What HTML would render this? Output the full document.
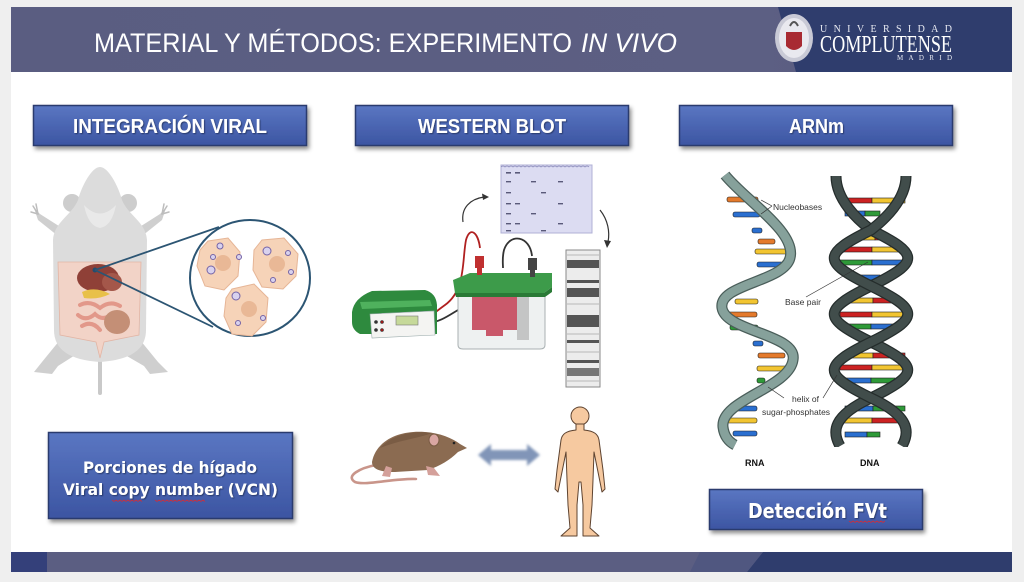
<!DOCTYPE html>
<html><head><meta charset="utf-8"><style>
html,body{margin:0;padding:0;background:#efefef;}
svg{display:block;}
</style></head><body>
<svg width="1024" height="582" viewBox="0 0 1024 582" xmlns="http://www.w3.org/2000/svg">
<defs>
<linearGradient id="btn" x1="0" y1="0" x2="0" y2="1">
<stop offset="0" stop-color="#5a76c2"/><stop offset="1" stop-color="#3c55a2"/>
</linearGradient>
<linearGradient id="hdr" x1="0" y1="0" x2="1" y2="0">
<stop offset="0" stop-color="#5a5d81"/><stop offset="0.75" stop-color="#5c5f83"/><stop offset="1" stop-color="#55597e"/>
</linearGradient>
<filter id="sh" x="-10%" y="-20%" width="125%" height="160%">
<feDropShadow dx="2" dy="3" stdDeviation="2" flood-color="#000" flood-opacity="0.45"/>
</filter>
<filter id="blur1"><feGaussianBlur stdDeviation="1.2"/></filter>
<filter id="tsh"><feDropShadow dx="1" dy="1" stdDeviation="0.6" flood-color="#1a2550" flood-opacity="0.7"/></filter>
<clipPath id="dnaclip"><rect x="810" y="174" width="120" height="273"/></clipPath>
</defs>

<!-- page background -->
<rect x="0" y="0" width="1024" height="582" fill="#efefef"/>
<rect x="11" y="7" width="1001" height="565" fill="#ffffff"/>

<!-- header -->
<rect x="11" y="7" width="1001" height="65" fill="url(#hdr)"/>
<polygon points="778,7 1012,7 1012,72 796,72" fill="#2f3d6d"/>
<text x="94" y="52" font-family="Liberation Sans, sans-serif" font-size="27" fill="#ffffff" textLength="478" lengthAdjust="spacingAndGlyphs">MATERIAL Y MÉTODOS: EXPERIMENTO</text>
<text x="581" y="52" font-family="Liberation Sans, sans-serif" font-size="27" font-style="italic" fill="#ffffff" textLength="96" lengthAdjust="spacingAndGlyphs">IN VIVO</text>

<!-- logo -->
<ellipse cx="794" cy="38" rx="19" ry="24" fill="#c9cad6"/>
<ellipse cx="794" cy="38" rx="15" ry="20" fill="#e9e9ef"/>
<path d="M786 32 L802 32 L802 46 Q794 54 786 46 Z" fill="#a82a32"/>
<path d="M790 26 Q794 18 798 26" stroke="#555" stroke-width="2" fill="none"/>
<text x="820" y="32" font-family="Liberation Serif, serif" font-size="10" fill="#e8eaf2" textLength="132" lengthAdjust="spacing">UNIVERSIDAD</text>
<text x="820" y="52" font-family="Liberation Serif, serif" font-size="24" fill="#ffffff" textLength="132" lengthAdjust="spacingAndGlyphs">COMPLUTENSE</text>
<text x="897" y="60" font-family="Liberation Serif, serif" font-size="7" fill="#e8eaf2" textLength="55" lengthAdjust="spacing">MADRID</text>

<!-- top buttons -->
<g filter="url(#sh)">
<rect x="33.5" y="105.5" width="273" height="40" fill="url(#btn)" stroke="#2b3b6e" stroke-width="1.5"/>
<rect x="355.5" y="105.5" width="273" height="40" fill="url(#btn)" stroke="#2b3b6e" stroke-width="1.5"/>
<rect x="679.5" y="105.5" width="273" height="40" fill="url(#btn)" stroke="#2b3b6e" stroke-width="1.5"/>
</g>
<g font-family="Liberation Sans, sans-serif" font-weight="bold" font-size="20" fill="#ffffff" filter="url(#tsh)">
<text x="73" y="133" textLength="194" lengthAdjust="spacingAndGlyphs">INTEGRACIÓN VIRAL</text>
<text x="418" y="133" textLength="148" lengthAdjust="spacingAndGlyphs">WESTERN BLOT</text>
<text x="789" y="133" textLength="55" lengthAdjust="spacingAndGlyphs">ARNm</text>
</g>

<!-- bottom buttons -->
<g filter="url(#sh)">
<rect x="48.5" y="432.5" width="244" height="86" fill="url(#btn)" stroke="#2b3b6e" stroke-width="1.5"/>
<rect x="709.5" y="489.5" width="213" height="40" fill="url(#btn)" stroke="#2b3b6e" stroke-width="1.5"/>
</g>
<g font-family="DejaVu Sans, Liberation Sans, sans-serif" font-weight="bold" fill="#ffffff" filter="url(#tsh)">
<text x="83" y="473" font-size="16" textLength="174" lengthAdjust="spacingAndGlyphs">Porciones de hígado</text>
<text x="63" y="495" font-size="16" textLength="215" lengthAdjust="spacingAndGlyphs">Viral copy number (VCN)</text>
<text x="748" y="518" font-size="20" textLength="139" lengthAdjust="spacingAndGlyphs">Detección FVt</text>
</g>
<!-- spellcheck squiggles -->
<g stroke="#c83040" stroke-width="0.8" fill="none">
<path d="M112 500 l2 1.5 l2 -1.5 l2 1.5 l2 -1.5 l2 1.5 l2 -1.5 l2 1.5 l2 -1.5 l2 1.5 l2 -1.5 l2 1.5 l2 -1.5 l2 1.5 l2 -1.5 l2 1.5"/>
<path d="M155 500 l2 1.5 l2 -1.5 l2 1.5 l2 -1.5 l2 1.5 l2 -1.5 l2 1.5 l2 -1.5 l2 1.5 l2 -1.5 l2 1.5 l2 -1.5 l2 1.5 l2 -1.5 l2 1.5 l2 -1.5 l2 1.5 l2 -1.5 l2 1.5 l2 -1.5 l2 1.5 l2 -1.5 l2 1.5 l2 -1.5 l2 1.5"/>
<path d="M849 521 l2 1.5 l2 -1.5 l2 1.5 l2 -1.5 l2 1.5 l2 -1.5 l2 1.5 l2 -1.5 l2 1.5 l2 -1.5 l2 1.5 l2 -1.5 l2 1.5 l2 -1.5 l2 1.5 l2 -1.5 l2 1.5 l2 -1.5"/>
</g>

<!-- bottom bar -->
<rect x="11" y="552" width="1001" height="20" fill="#5b5e82"/>
<rect x="11" y="552" width="36" height="20" fill="#34407a"/>
<polygon points="763,552 1012,552 1012,572 747,572" fill="#2f3d6d"/>
<polygon points="700,552 763,552 747,572 690,572" fill="#4d5580" opacity="0.8"/>

<!-- ============ MOUSE (ventral) ============ -->
<g>
<line x1="100" y1="355" x2="100" y2="393" stroke="#c9c9c9" stroke-width="4" stroke-linecap="round"/>
<path d="M64 335 L42 362 L34 372 L52 374 L58 366 L80 352 Z" fill="#cfcfcf"/>
<path d="M136 335 L158 362 L168 372 L150 374 L144 366 L120 352 Z" fill="#cfcfcf"/>
<path d="M62 228 L40 214 L34 208 L38 220 L58 236 Z" fill="#cfcfcf"/>
<path d="M138 228 L160 214 L166 208 L162 220 L142 236 Z" fill="#cfcfcf"/>
<g stroke="#bdbdbd" stroke-width="1.5" stroke-linecap="round">
<line x1="38" y1="214" x2="33" y2="206"/><line x1="38" y1="214" x2="36" y2="204"/><line x1="38" y1="214" x2="31" y2="212"/>
<line x1="162" y1="214" x2="167" y2="206"/><line x1="162" y1="214" x2="164" y2="204"/><line x1="162" y1="214" x2="169" y2="212"/>
</g>
<ellipse cx="72" cy="203" rx="9" ry="9" fill="#cdcdcd"/>
<ellipse cx="128" cy="203" rx="9" ry="9" fill="#cdcdcd"/>
<path d="M100 167 C108 167 118 185 122 200 C128 215 146 222 147 240 L146 330 C146 350 130 360 100 362 C70 360 54 350 54 330 L53 240 C54 222 72 215 78 200 C82 185 92 167 100 167 Z" fill="#dcdcdc"/>
<path d="M84 205 Q100 222 116 205 Q112 226 100 228 Q88 226 84 205 Z" fill="#e9e9e9"/>
<path d="M58 262 L141 262 L139 335 L104 342 L100 358 L96 342 L60 335 Z" fill="#f2d3c7" stroke="#e2b5a5" stroke-width="0.8"/>
<ellipse cx="98" cy="278" rx="21" ry="14" fill="#8f4037"/>
<ellipse cx="112" cy="282" rx="10" ry="9" fill="#a4574a"/>
<path d="M82 292 Q95 286 110 294 Q98 300 84 298 Z" fill="#e8c049"/>
<g stroke="#e2988a" stroke-width="4" fill="none" stroke-linecap="round">
<path d="M80 305 Q90 300 100 308 Q110 300 120 306"/>
<path d="M78 315 Q86 322 95 314 Q103 322 112 314"/>
<path d="M82 326 Q92 320 100 330"/>
</g>
<ellipse cx="117" cy="322" rx="13" ry="12" fill="#c48f76"/>
<circle cx="95" cy="270" r="2.5" fill="#234c6e"/>
</g>

<!-- magnifier -->
<line x1="95" y1="270" x2="219" y2="227" stroke="#2c5573" stroke-width="1.8"/>
<line x1="95" y1="270" x2="213" y2="327" stroke="#2c5573" stroke-width="1.8"/>
<ellipse cx="250" cy="278" rx="60" ry="58" fill="#ffffff" stroke="#2c5573" stroke-width="2"/>
<g fill="#f6d3b8" stroke="#e6b596" stroke-width="1">
<polygon points="208,241 228,238 240,252 238,276 224,290 205,286 197,266 200,250"/>
<polygon points="262,240 284,238 298,254 296,276 283,289 262,287 253,270 254,250"/>
<polygon points="232,289 254,284 268,298 266,322 252,336 232,334 224,316 226,298"/>
</g>
<g fill="#e9b896">
<circle cx="223" cy="263" r="8"/><circle cx="277" cy="264" r="8"/><circle cx="249" cy="309" r="8"/>
</g>
<g fill="#d9d2ee" stroke="#7463a6" stroke-width="1">
<circle cx="220" cy="246" r="3"/><circle cx="213" cy="257" r="2.5"/><circle cx="211" cy="270" r="4"/><circle cx="239" cy="257" r="2.5"/>
<circle cx="267" cy="251" r="4"/><circle cx="288" cy="253" r="2.5"/><circle cx="291" cy="272" r="2.5"/><circle cx="273" cy="280" r="2.5"/>
<circle cx="236" cy="296" r="4"/><circle cx="238" cy="323" r="2.5"/><circle cx="263" cy="318" r="2.5"/>
</g>

<!-- ============ WESTERN BLOT ============ -->
<!-- gel sheet -->
<rect x="501" y="165" width="91" height="68" fill="#dcdcf2" stroke="#b0b0d6" stroke-width="1"/>
<path d="M501 167 q2 -2 4 0 q2 -2 4 0 q2 -2 4 0 q2 -2 4 0 q2 -2 4 0 q2 -2 4 0 q2 -2 4 0 q2 -2 4 0 q2 -2 4 0 q2 -2 4 0 q2 -2 4 0 q2 -2 4 0 q2 -2 4 0 q2 -2 4 0 q2 -2 4 0 q2 -2 4 0 q2 -2 4 0 q2 -2 4 0 q2 -2 4 0 q2 -2 4 0 q2 -2 4 0 q2 -2 4 0" stroke="#8888b8" stroke-width="0.8" fill="none"/>
<g fill="#5a5a7a">
<rect x="506" y="172" width="5" height="1.6"/><rect x="515" y="172" width="5" height="1.6"/>
<rect x="506" y="181" width="5" height="1.4"/><rect x="531" y="181" width="5" height="1.4"/><rect x="558" y="181" width="5" height="1.4"/>
<rect x="506" y="192" width="5" height="1.4"/><rect x="541" y="192" width="5" height="1.4"/>
<rect x="506" y="203" width="5" height="1.4"/><rect x="515" y="203" width="5" height="1.4"/><rect x="558" y="203" width="5" height="1.4"/>
<rect x="506" y="213" width="5" height="1.4"/><rect x="531" y="213" width="5" height="1.4"/>
<rect x="506" y="223" width="5" height="1.4"/><rect x="515" y="223" width="5" height="1.4"/><rect x="558" y="223" width="5" height="1.4"/>
<rect x="506" y="230" width="5" height="1.4"/><rect x="541" y="230" width="5" height="1.4"/>
</g>
<!-- curved arrows -->
<path d="M463 222 C461 208 470 199 484 197" stroke="#333" stroke-width="1.2" fill="none"/>
<polygon points="489,197 482,193.5 483,200" fill="#333"/>
<path d="M600 210 C608 220 610 232 608 242" stroke="#333" stroke-width="1.2" fill="none"/>
<polygon points="607,248 604,240 611,241" fill="#333"/>
<!-- strip -->
<rect x="566" y="250" width="34" height="137" fill="#ececec" stroke="#8a8a8a" stroke-width="1"/>
<g fill="#555">
<rect x="567" y="260" width="32" height="8"/>
<rect x="567" y="280" width="32" height="3"/>
<rect x="567" y="288" width="32" height="9"/>
<rect x="567" y="315" width="32" height="12"/>
<rect x="567" y="340" width="32" height="3"/>
<rect x="567" y="360" width="32" height="3"/>
<rect x="567" y="368" width="32" height="8" fill="#777"/>
</g>
<g stroke="#b8b8b8" stroke-width="1">
<line x1="567" y1="255" x2="599" y2="255"/><line x1="567" y1="304" x2="599" y2="304"/><line x1="567" y1="334" x2="599" y2="334"/><line x1="567" y1="352" x2="599" y2="352"/><line x1="567" y1="381" x2="599" y2="381"/>
</g>
<!-- wires -->
<path d="M480 248 C478 232 470 226 466 240 C462 260 466 290 445 305 C438 310 432 315 428 318" stroke="#b02020" stroke-width="1.8" fill="none"/>
<path d="M532 256 C530 236 510 232 504 250 C502 258 503 264 503 268" stroke="#333" stroke-width="1.8" fill="none"/>
<path d="M458 310 C448 316 440 322 428 323" stroke="#333" stroke-width="1.8" fill="none"/>
<!-- tank -->
<path d="M458 292 L545 292 L545 345 Q545 349 540 349 L463 349 Q458 349 458 345 Z" fill="#eef1f1" stroke="#a9b0b2" stroke-width="1"/>
<rect x="472" y="287" width="45" height="53" fill="#c9586a"/>
<rect x="517" y="295" width="12" height="45" fill="#a9a9a9" opacity="0.6"/>
<path d="M472 340 L472 330 L486 330 L486 336 L503 336 L503 330 L517 330 L517 340 Z" fill="#eef1f1"/>
<path d="M453 280 L470 273 L552 273 L552 287 L544 293 L455 293 Z" fill="#3d9b4a"/>
<path d="M455 293 L544 293 L552 287 L552 292 L545 297 L456 297 Z" fill="#2a7a36"/>
<rect x="475" y="256" width="9" height="12" fill="#c03030"/>
<rect x="477" y="266" width="5" height="9" fill="#c03030"/>
<rect x="528" y="258" width="9" height="12" fill="#444"/>
<rect x="530" y="268" width="5" height="9" fill="#444"/>
<!-- power supply -->
<path d="M352 312 Q354 298 372 291 L425 290 Q436 293 437 305 L437 334 L360 334 Q352 330 352 322 Z" fill="#2e8a3e"/>
<path d="M360 302 L430 300 L432 306 L362 309 Z" fill="#4fb15d"/>
<path d="M370 314 L434 311 L435 335 L372 338 Z" fill="#f4f4f2" stroke="#9aa" stroke-width="0.6"/>
<rect x="396" y="316" width="22" height="9" fill="#c6d99a" stroke="#777" stroke-width="0.6"/>
<g fill="#333"><circle cx="376" cy="322" r="1.8"/><circle cx="382" cy="322" r="1.8"/><circle cx="376" cy="330" r="1.8"/><circle cx="382" cy="330" r="1.8"/></g>
<g fill="#a01818"><circle cx="382" cy="322" r="1.2"/><circle cx="382" cy="330" r="1.2"/></g>

<!-- ============ brown mouse / arrow / human ============ -->
<path d="M376 465 C360 468 345 476 355 482 C365 486 395 478 416 479" stroke="#c9958a" stroke-width="2.6" fill="none" stroke-linecap="round"/>
<path d="M372 462 C376 440 400 430 425 432 C440 433 452 438 460 444 L467 448 L458 452 C450 460 440 466 428 470 L395 472 C382 472 372 470 372 462 Z" fill="#8b6b51"/>
<path d="M380 448 C392 434 415 430 432 433 C420 438 400 440 380 448 Z" fill="#7a5c44"/>
<ellipse cx="434" cy="440" rx="5" ry="6" fill="#d9a6a2" stroke="#7a5c44" stroke-width="1"/>
<circle cx="454" cy="443" r="1.3" fill="#222"/>
<path d="M386 466 L382 476 L390 477 L392 468 Z" fill="#d4a09a"/>
<path d="M426 466 L428 475 L440 476 L434 468 Z" fill="#d4a09a"/>
<polygon points="478,455 491,444 491,450 527,450 527,444 540,455 527,466 527,460 491,460 491,466" fill="#8195b8" filter="url(#blur1)"/>
<circle cx="580" cy="416" r="9" fill="#f6c9a0" stroke="#5e4330" stroke-width="1"/>
<path d="M576 424 L576 430 C566 431 562 434 561 440 L557 470 L555 489 L558 492 L562 472 L566 452 L567 480 L568 505 L570 528 L561 536 L577 536 L577 505 L579 482 L581 482 L583 505 L583 536 L599 536 L590 528 L592 505 L593 480 L594 452 L598 472 L602 492 L605 489 L603 470 L599 440 C598 434 594 431 584 430 L584 424 Z" fill="#f6c9a0" stroke="#5e4330" stroke-width="1" stroke-linejoin="round"/>

<!-- ============ RNA ============ -->
<g stroke="#1e1e1e" stroke-width="0.6">
<rect x="727" y="197" width="31" height="5" rx="2" fill="#e47a2c"/>
<rect x="733" y="212" width="27" height="5" rx="2" fill="#2a6fd0"/>
<rect x="752" y="228" width="10" height="5" rx="2" fill="#2a6fd0"/>
<rect x="758" y="239" width="17" height="5" rx="2" fill="#e47a2c"/>
<rect x="755" y="249" width="35" height="5" rx="2" fill="#f2c531"/>
<rect x="757" y="262" width="26" height="5" rx="2" fill="#2a6fd0"/>
<rect x="735" y="299" width="23" height="5" rx="2" fill="#f2c531"/>
<rect x="727" y="312" width="30" height="5" rx="2" fill="#e47a2c"/>
<rect x="730" y="325" width="28" height="5" rx="2" fill="#2e9a38"/>
<rect x="753" y="341" width="10" height="5" rx="2" fill="#2a6fd0"/>
<rect x="758" y="353" width="27" height="5" rx="2" fill="#e47a2c"/>
<rect x="757" y="366" width="33" height="5" rx="2" fill="#f2c531"/>
<rect x="757" y="378" width="8" height="5" rx="2" fill="#2e9a38"/>
<rect x="733" y="406" width="24" height="5" rx="2" fill="#2a6fd0"/>
<rect x="727" y="418" width="30" height="5" rx="2" fill="#f2c531"/>
<rect x="733" y="431" width="24" height="5" rx="2" fill="#2a6fd0"/>
</g>
<path d="M725 175 C745 200 797 232 790 258 C784 282 718 284 722 308 C726 332 798 334 793 360 C789 388 720 400 723 427 C724 436 729 442 735 445" stroke="#4a5e5a" stroke-width="11" fill="none"/>
<path d="M725 175 C745 200 797 232 790 258 C784 282 718 284 722 308 C726 332 798 334 793 360 C789 388 720 400 723 427 C724 436 729 442 735 445" stroke="#86a19b" stroke-width="8.5" fill="none"/>

<!-- ============ DNA ============ -->
<g stroke="#1e1e1e" stroke-width="0.6">
<rect x="840" y="198" width="32" height="5" fill="#cc2222"/><rect x="872" y="198" width="33" height="5" fill="#f2c531"/>
<rect x="845" y="211" width="20" height="5" fill="#2a6fd0"/><rect x="865" y="211" width="15" height="5" fill="#2e9a38"/>
<rect x="860" y="235" width="15" height="5" fill="#f2c531"/><rect x="875" y="235" width="15" height="5" fill="#cc2222"/>
<rect x="840" y="247" width="32" height="5" fill="#cc2222"/><rect x="872" y="247" width="33" height="5" fill="#f2c531"/>
<rect x="840" y="260" width="32" height="5" fill="#2e9a38"/><rect x="872" y="260" width="33" height="5" fill="#2a6fd0"/>
<rect x="860" y="275" width="20" height="5" fill="#2a6fd0"/>
<rect x="845" y="298" width="28" height="5" fill="#f2c531"/><rect x="873" y="298" width="27" height="5" fill="#cc2222"/>
<rect x="840" y="312" width="32" height="5" fill="#cc2222"/><rect x="872" y="312" width="33" height="5" fill="#f2c531"/>
<rect x="845" y="324" width="26" height="5" fill="#2e9a38"/><rect x="871" y="324" width="24" height="5" fill="#2a6fd0"/>
<rect x="864" y="343" width="16" height="5" fill="#2a6fd0"/>
<rect x="845" y="353" width="28" height="5" fill="#f2c531"/><rect x="873" y="353" width="32" height="5" fill="#cc2222"/>
<rect x="840" y="365" width="32" height="5" fill="#cc2222"/><rect x="872" y="365" width="33" height="5" fill="#f2c531"/>
<rect x="845" y="378" width="26" height="5" fill="#2a6fd0"/><rect x="871" y="378" width="24" height="5" fill="#2e9a38"/>
<rect x="862" y="395" width="18" height="5" fill="#cc2222"/>
<rect x="845" y="406" width="28" height="5" fill="#2a6fd0"/><rect x="873" y="406" width="32" height="5" fill="#2e9a38"/>
<rect x="840" y="418" width="32" height="5" fill="#f2c531"/><rect x="872" y="418" width="33" height="5" fill="#cc2222"/>
<rect x="845" y="432" width="22" height="5" fill="#2a6fd0"/><rect x="867" y="432" width="13" height="5" fill="#2e9a38"/>
</g>
<g clip-path="url(#dnaclip)" fill="none">
<path d="M836 176 C836 200 858 220 871 230 C920 254 920 262 871 286 C822 310 822 318 871 342 C920 366 920 374 871 398 C832 416 832 432 840 446" stroke="#252d2c" stroke-width="11"/>
<path d="M836 176 C836 200 858 220 871 230 C920 254 920 262 871 286 C822 310 822 318 871 342 C920 366 920 374 871 398 C832 416 832 432 840 446" stroke="#414d4b" stroke-width="8.5"/>
<path d="M906 176 C906 200 884 220 871 230 C822 254 822 262 871 286 C920 310 920 318 871 342 C822 366 822 374 871 398 C910 416 910 432 902 446" stroke="#252d2c" stroke-width="11"/>
<path d="M906 176 C906 200 884 220 871 230 C822 254 822 262 871 286 C920 310 920 318 871 342 C822 366 822 374 871 398 C910 416 910 432 902 446" stroke="#414d4b" stroke-width="8.5"/>
</g>

<!-- DNA labels -->
<g stroke="#333" stroke-width="0.7" fill="none">
<line x1="772" y1="206" x2="761" y2="200"/><line x1="772" y1="206" x2="761" y2="214"/>
<line x1="806" y1="297" x2="868" y2="262"/>
<line x1="784" y1="398" x2="768" y2="387"/>
<line x1="823" y1="398" x2="837" y2="375"/>
</g>
<g font-family="Liberation Sans, sans-serif" font-size="8.5" fill="#333">
<text x="773" y="210">Nucleobases</text>
<text x="785" y="305">Base pair</text>
<text x="792" y="402">helix of</text>
<text x="762" y="415">sugar-phosphates</text>
</g>
<g font-family="Liberation Sans, sans-serif" font-size="9" font-weight="bold" fill="#111">
<text x="745" y="466">RNA</text>
<text x="860" y="466">DNA</text>
</g>
</svg>
</body></html>
